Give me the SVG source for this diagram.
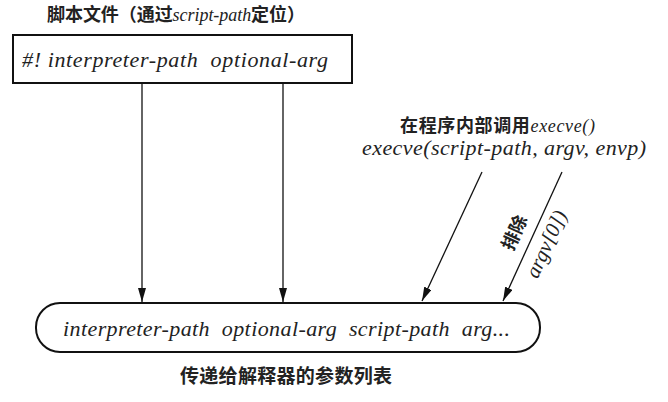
<svg xmlns="http://www.w3.org/2000/svg" width="668" height="402" viewBox="0 0 668 402">
<style>
.cjk{font-family:"Noto Sans CJK SC",sans-serif;font-weight:bold;fill:#222}
.it{font-family:"Liberation Serif","DejaVu Serif",serif;font-style:italic;font-weight:normal;fill:#222;white-space:pre}
.ln{stroke:#111;stroke-width:1.3;fill:none}
</style>
<defs>
<marker id="arr" viewBox="0 0 14 8" refX="14" refY="4" markerWidth="14" markerHeight="8" markerUnits="userSpaceOnUse" orient="auto">
<path d="M0,0 L14,4 L0,8 z" fill="#111"/>
</marker>
</defs>
<rect width="668" height="402" fill="#fff"/>
<g id="title">
<text class="cjk" x="47" y="21" font-size="18" textLength="258">脚本文件（通过<tspan class="it">script-path</tspan>定位）</text>
</g>
<g id="script-box">
<rect x="13" y="35" width="339" height="48" fill="#fff" stroke="#111" stroke-width="2"/>
<text class="it" x="22" y="67" font-size="22" textLength="306" xml:space="preserve">#! interpreter-path  optional-arg</text>
</g>
<g id="execve-label">
<text class="cjk" x="400" y="132" font-size="18" textLength="195">在程序内部调用<tspan class="it">execve()</tspan></text>
<text class="it" x="362" y="155" font-size="22" textLength="284">execve(script-path, argv, envp)</text>
</g>
<g id="arg-list">
<rect x="36" y="303" width="504" height="49" rx="24" ry="24" fill="#fff" stroke="#111" stroke-width="2"/>
<text class="it" x="63" y="336" font-size="22" textLength="447" xml:space="preserve">interpreter-path  optional-arg  script-path  arg...</text>
</g>
<g id="caption">
<text class="cjk" x="180" y="383" font-size="19" textLength="212">传递给解释器的参数列表</text>
</g>
<g id="connectors">
<line class="ln" x1="142" y1="83" x2="142" y2="302" marker-end="url(#arr)"/>
<line class="ln" x1="283" y1="83" x2="283" y2="302" marker-end="url(#arr)"/>
<line class="ln" x1="482" y1="172" x2="422" y2="301" marker-end="url(#arr)"/>
<line class="ln" x1="562" y1="172" x2="503" y2="301" marker-end="url(#arr)"/>
<text class="cjk" font-size="18" text-anchor="middle" dominant-baseline="central" transform="translate(513,232) rotate(-65.3)">排除</text>
<text class="it" font-size="21" text-anchor="middle" dominant-baseline="central" transform="translate(546,244) rotate(-65.3)">argv[0])</text>
</g>
</svg>
